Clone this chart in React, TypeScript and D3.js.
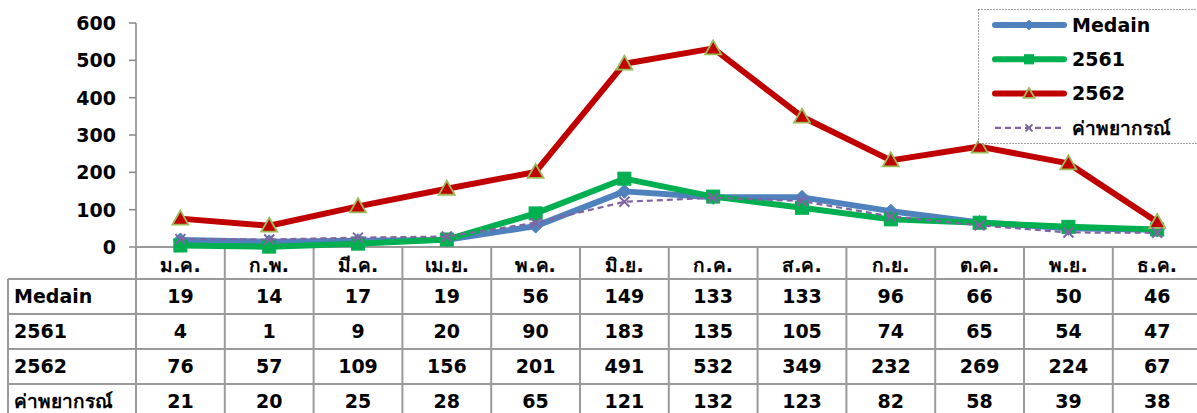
import * as d3 from "d3";

const months = ["ม.ค.", "ก.พ.", "มี.ค.", "เม.ย.", "พ.ค.", "มิ.ย.", "ก.ค.", "ส.ค.", "ก.ย.", "ต.ค.", "พ.ย.", "ธ.ค."];
const medain = [19, 14, 17, 19, 56, 149, 133, 133, 96, 66, 50, 46];
const y2561 = [4, 1, 9, 20, 90, 183, 135, 105, 74, 65, 54, 47];
const y2562 = [76, 57, 109, 156, 201, 491, 532, 349, 232, 269, 224, 67];
const forecast = [21, 20, 25, 28, 65, 121, 132, 123, 82, 58, 39, 38];
const yTicks = [0, 100, 200, 300, 400, 500, 600];

const seriesNames = ["Medain", "2561", "2562", "ค่าพยากรณ์"];
const seriesValues = [medain, y2561, y2562, forecast];
const seriesColors = ["#4F81BD", "#00B050", "#C00000", "#8064A2"];

const font = "Tahoma, 'DejaVu Sans', 'Noto Sans', sans-serif";

const Marker: React.FC<{ kind: number; cx: number; cy: number; s?: number }> = ({ kind, cx, cy, s = 1 }) => {
    if (kind === 0) {
        const r = 7 * s;
        return <path d={`M${cx},${cy - r}L${cx + r},${cy}L${cx},${cy + r}L${cx - r},${cy}Z`} fill="#4F81BD" stroke="#4F81BD" />;
    }
    if (kind === 1) {
        const r = 6.5 * s;
        return <rect x={cx - r} y={cy - r} width={2 * r} height={2 * r} fill="#00B050" stroke="#00B050" />;
    }
    if (kind === 2) {
        const r = 8 * s;
        return <path d={`M${cx},${cy - r}L${cx + r},${cy + r * 0.75}L${cx - r},${cy + r * 0.75}Z`} fill="#C00000" stroke="#9BBB59" strokeWidth={1.8} />;
    }
    const r = 5 * s;
    return <path d={`M${cx - r},${cy - r}L${cx + r},${cy + r}M${cx - r},${cy + r}L${cx + r},${cy - r}`} stroke="#8064A2" strokeWidth={2} fill="none" />;
};

const App: React.FC = () => {
    const width = 1197;
    const height = 413;
    const left = 136;
    const colW = 88.8;
    const x = d3.scaleBand<string>().domain(months).range([left, left + colW * 12]);
    const cx = (i: number) => (x(months[i]) ?? 0) + x.bandwidth() / 2;
    const y = d3.scaleLinear([0, 600], [247, 23]);
    const line = d3.line<number>((_, i) => cx(i), (d) => y(d));

    const tableTop = 279;
    const rowH = 35;
    const gridColor = "#9a9a9a";

    return (
        <svg width={width} height={height} style={{ position: "absolute", left: 0, top: 0, background: "#fff" }} fontFamily={font} fontWeight="bold">
            {/* y axis */}
            <line x1={left} x2={left} y1={y(600)} y2={y(0)} stroke="#888" strokeWidth={1.5} />
            {yTicks.map((t) => (
                <g key={t}>
                    <line x1={left - 7} x2={left} y1={y(t)} y2={y(t)} stroke="#888" strokeWidth={1.5} />
                    <text x={116} y={y(t)} dy="0.36em" textAnchor="end" fontSize={19}>{t}</text>
                </g>
            ))}
            {/* x axis + category row */}
            <line x1={left} x2={width} y1={y(0)} y2={y(0)} stroke={gridColor} strokeWidth={2} />
            {months.map((m, i) => (
                <g key={m}>
                    <line x1={(x(m) ?? 0) + colW} x2={(x(m) ?? 0) + colW} y1={y(0)} y2={height} stroke={gridColor} strokeWidth={2} />
                    <text x={cx(i)} y={265} dy="0.36em" textAnchor="middle" fontSize={19}>{m}</text>
                </g>
            ))}
            <line x1={left} x2={left} y1={y(0)} y2={height} stroke={gridColor} strokeWidth={2} />
            {/* table */}
            <line x1={8} x2={8} y1={tableTop} y2={height} stroke={gridColor} strokeWidth={2} />
            {seriesNames.map((n, r) => (
                <g key={n}>
                    <line x1={8} x2={width} y1={tableTop + r * rowH} y2={tableTop + r * rowH} stroke={gridColor} strokeWidth={2} />
                    <text x={14} y={tableTop + r * rowH + rowH / 2} dy="0.36em" fontSize={19}>{n}</text>
                    {seriesValues[r].map((v, i) => (
                        <text key={i} x={cx(i)} y={tableTop + r * rowH + rowH / 2} dy="0.36em" textAnchor="middle" fontSize={19}>{v}</text>
                    ))}
                </g>
            ))}
            {/* series */}
            {seriesValues.map((vals, s) => (
                <g key={s}>
                    <path d={line(vals) ?? undefined} fill="none" stroke={seriesColors[s]} strokeWidth={s === 3 ? 2.2 : 6} strokeDasharray={s === 3 ? "6,4" : undefined} strokeLinejoin="round" />
                    {vals.map((v, i) => <Marker key={i} kind={s} cx={cx(i)} cy={y(v)} />)}
                </g>
            ))}
            {/* legend */}
            <rect x={978.5} y={9.5} width={240} height={134} fill="#fff" stroke="#444" strokeWidth={1} strokeDasharray="1,2" />
            {seriesNames.map((n, s) => {
                const ly = 25 + s * 34.3;
                return (
                    <g key={n}>
                        <line x1={995} x2={1064} y1={ly} y2={ly} stroke={seriesColors[s]} strokeWidth={s === 3 ? 2.2 : 6} strokeDasharray={s === 3 ? "6,4" : undefined} strokeLinecap={s === 3 ? "butt" : "round"} />
                        <Marker kind={s} cx={1029} cy={ly} s={0.7} />
                        <text x={1072} y={ly} dy="0.36em" fontSize={19}>{n}</text>
                    </g>
                );
            })}
        </svg>
    );
};

export default App;
